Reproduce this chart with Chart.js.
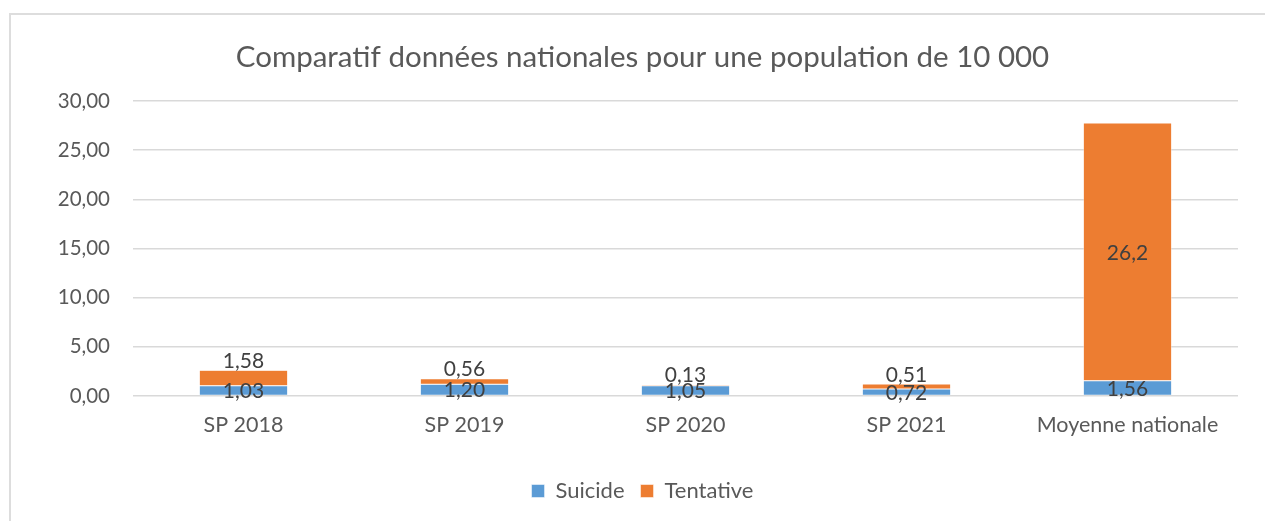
<!DOCTYPE html>
<html>
<head>
<meta charset="utf-8">
<script src="https://cdn.jsdelivr.net/npm/chart.js@4/dist/chart.umd.min.js"></script>
<style>
  html, body { margin: 0; padding: 0; background: #ffffff; overflow: hidden; }
  #wrap { position: relative; width: 1265px; height: 521px; overflow: hidden; }
  #frame { position: absolute; left: 9px; top: 13px; width: 1400px; height: 700px; border: 2px solid #DDDDDD; box-sizing: border-box; }
  #c { position: absolute; left: 0; top: 0; }
</style>
</head>
<body>
<div id="wrap">
  <div id="frame"></div>
  <canvas id="c" width="1265" height="521"></canvas>
</div>
<script>
const titleText = "Comparatif données nationales pour une population de 10 000";
const categories = ["SP 2018", "SP 2019", "SP 2020", "SP 2021", "Moyenne nationale"];
const suicide = [1.03, 1.20, 1.05, 0.72, 1.56];
const tentative = [1.58, 0.56, 0.13, 0.51, 26.2];
const yTicks = [0, 5, 10, 15, 20, 25, 30];

const FONT = "Lato";

function fmtFixed(v) { return v.toFixed(2).replace('.', ','); }
function fmtGeneral(v) { return String(v).replace('.', ','); }

const labelPlugin = {
  id: 'segLabels',
  afterDatasetsDraw(chart) {
    const ctx = chart.ctx;
    ctx.save();
    ctx.font = "21px " + FONT;
    ctx.fillStyle = "#404040";
    ctx.textAlign = "center";
    ctx.textBaseline = "middle";
    chart.data.datasets.forEach((ds, di) => {
      const meta = chart.getDatasetMeta(di);
      meta.data.forEach((bar, i) => {
        const v = ds.data[i];
        const h = bar.base - bar.y;
        let y = (bar.y + bar.base) / 2;
        if (di === 1 && h < 30) y = bar.y - 10;
        const txt = di === 0 ? fmtFixed(v) : fmtGeneral(v);
        ctx.fillText(txt, bar.x, y + 1);
      });
    });
    ctx.restore();
  }
};

new Chart(document.getElementById('c'), {
  type: 'bar',
  data: {
    labels: categories,
    datasets: [
      { label: 'Suicide', data: suicide, backgroundColor: '#5B9BD5', borderColor: '#ffffff', borderWidth: 0.5, borderSkipped: false },
      { label: 'Tentative', data: tentative, backgroundColor: '#ED7D31', borderColor: '#ffffff', borderWidth: 0.5, borderSkipped: false }
    ]
  },
  options: {
    responsive: false,
    animation: false,
    devicePixelRatio: 1,
    layout: { padding: { left: 47, right: 27, top: 0, bottom: 9 } },
    datasets: { bar: { categoryPercentage: 1.0, barPercentage: 0.4 } },
    plugins: {
      title: {
        display: true,
        text: titleText,
        color: '#595959',
        font: { family: FONT, size: 29.5, weight: 'normal', lineHeight: 1.2 },
        padding: { top: 39.3, bottom: 26.3 }
      },
      legend: {
        display: true,
        position: 'bottom',
        labels: {
          color: '#595959',
          font: { family: FONT, size: 22 },
          boxWidth: 13,
          boxHeight: 13,
          padding: 16
        }
      },
      tooltip: { enabled: false }
    },
    scales: {
      x: {
        stacked: true,
        grid: { display: false, drawTicks: false },
        border: { display: false },
        ticks: { color: '#595959', font: { family: FONT, size: 21.5 }, padding: 16, maxRotation: 0 },
        afterFit(scale) { scale.height = 68; }
      },
      y: {
        stacked: true,
        min: 0,
        max: 30,
        afterBuildTicks(scale) { scale.ticks = yTicks.map(v => ({ value: v })); },
        grid: { color: '#D9D9D9', lineWidth: 1.5, drawTicks: false },
        border: { display: false },
        ticks: {
          color: '#595959',
          font: { family: FONT, size: 20.5 },
          padding: 23,
          callback: (v) => fmtFixed(v)
        },
        afterFit(scale) { scale.width = 86; }
      }
    }
  },
  plugins: [labelPlugin]
});
</script>
</body>
</html>
